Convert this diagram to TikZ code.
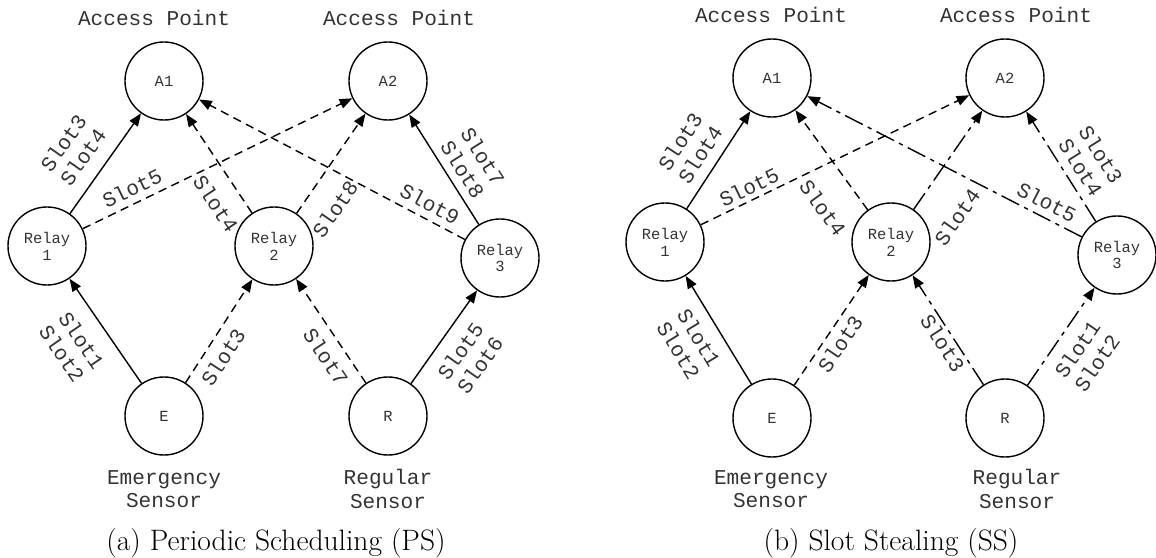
\documentclass[tikz,border=0pt]{standalone}
\usepackage{fontspec}
\setmonofont{Liberation Mono}
\usetikzlibrary{positioning, arrows.meta}

\begin{document}
\begin{tikzpicture}[
            x=0.025cm, y=-0.025cm,
            station/.style={draw, circle, line width=1pt, minimum size=1.95cm, inner sep=0pt, align=center, text=black!80, font=\ttfamily\fontsize{11}{12}\selectfont},
            tag/.style={align=center, text=black!80, font=\ttfamily\fontsize{15}{16.5}\selectfont},
            slot/.style={align=center, inner sep=0pt, text=black!80, font=\ttfamily\fontsize{15}{17}\selectfont},
            link/.style={-{Triangle[length=9pt, width=7pt]}, line width=1pt},
            dashlink/.style={link, dash pattern=on 6pt off 4pt},
            dotlink/.style={link, dash pattern=on 14pt off 4pt on 3pt off 4pt},
            caption/.style={font=\fontsize{21}{24}\selectfont}
        ]
            \useasboundingbox (0,0) rectangle (1156,558);

            % (a) periodic scheduling
            \node[station] (psA1) at (164,81) {A1};
            \node[station] (psA2) at (388,81) {A2};
            \node[station] (psR1) at (47,246) {Relay\\1};
            \node[station] (psR2) at (274,246) {Relay\\2};
            \node[station] (psR3) at (500,258) {Relay\\3};
            \node[station] (psES) at (164,416) {E};
            \node[station] (psRS) at (388,416) {R};

            \node[tag] (psAP1) at (154,18) {Access Point};
            \node[tag] (psAP2) at (399,18) {Access Point};
            \node[tag] (psESt) at (164,489) {Emergency\\Sensor};
            \node[tag] (psRSt) at (388,489) {Regular\\Sensor};

            \draw[link] (psR1) -- (psA1);
            \draw[dashlink] (psR1) -- (psA2);
            \draw[dashlink] (psR2) -- (psA1);
            \draw[dashlink] (psR2) -- (psA2);
            \draw[dashlink] (psR3) -- (psA1);
            \draw[link] (psR3) -- (psA2);
            \draw[link] (psES) -- (psR1);
            \draw[dashlink] (psES) -- (psR2);
            \draw[dashlink] (psRS) -- (psR2);
            \draw[link] (psRS) -- (psR3);

            % slot labels
            \node[slot, rotate=54.7] (psS1) at (73,150) {Slot3\\Slot4};
            \node[slot, rotate=25.8] (psS2) at (132,188) {Slot5};
            \node[slot, rotate=-56.3] (psS3) at (216,204) {Slot4};
            \node[slot, rotate=55.4] (psS4) at (335,209) {Slot8};
            \node[slot, rotate=-27.8] (psS5) at (430,204) {Slot9};
            \node[slot, rotate=-57.7] (psS6) at (473,163) {Slot7\\Slot8};
            \node[slot, rotate=-55.5] (psS7) at (72,347) {Slot1\\Slot2};
            \node[slot, rotate=57.1] (psS8) at (223,357) {Slot3};
            \node[slot, rotate=-56.2] (psS9) at (326,357) {Slot7};
            \node[slot, rotate=54.7] (psS10) at (470,358) {Slot5\\Slot6};

            \node[caption] (psCap) at (276,543) {(a) Periodic Scheduling (PS)};

            % (b) slot stealing
            \node[station] (ssA1) at (772,78) {A1};
            \node[station] (ssA2) at (1005,78) {A2};
            \node[station] (ssR1) at (665,242) {Relay\\1};
            \node[station] (ssR2) at (891,242) {Relay\\2};
            \node[station] (ssR3) at (1117,255) {Relay\\3};
            \node[station] (ssES) at (772,418) {E};
            \node[station] (ssRS) at (1005,418) {R};

            \node[tag] (ssAP1) at (771,15) {Access Point};
            \node[tag] (ssAP2) at (1016,15) {Access Point};
            \node[tag] (ssESt) at (771,489) {Emergency\\Sensor};
            \node[tag] (ssRSt) at (1017,489) {Regular\\Sensor};

            \draw[link] (ssR1) -- (ssA1);
            \draw[dashlink] (ssR1) -- (ssA2);
            \draw[dashlink] (ssR2) -- (ssA1);
            \draw[dotlink] (ssR2) -- (ssA2);
            \draw[dotlink] (ssR3) -- (ssA1);
            \draw[dotlink] (ssR3) -- (ssA2);
            \draw[link] (ssES) -- (ssR1);
            \draw[dashlink] (ssES) -- (ssR2);
            \draw[dotlink] (ssRS) -- (ssR2);
            \draw[dotlink] (ssRS) -- (ssR3);

            % slot labels
            \node[slot, rotate=56.9] (ssS1) at (690,148) {Slot3\\Slot4};
            \node[slot, rotate=25.8] (ssS2) at (749,187) {Slot5};
            \node[slot, rotate=-54.0] (ssS3) at (823,208) {Slot4};
            \node[slot, rotate=55.2] (ssS4) at (957,217) {Slot4};
            \node[slot, rotate=-27.2] (ssS5) at (1047,202) {Slot5};
            \node[slot, rotate=-57.7] (ssS6) at (1091,161) {Slot3\\Slot4};
            \node[slot, rotate=-58.7] (ssS7) at (689,344) {Slot1\\Slot2};
            \node[slot, rotate=55.9] (ssS8) at (840,344) {Slot3};
            \node[slot, rotate=-57.1] (ssS9) at (943,343) {Slot3};
            \node[slot, rotate=55.5] (ssS10) at (1087,356) {Slot1\\Slot2};

            \node[caption] (ssCap) at (891,543) {(b) Slot Stealing (SS)};

        \end{tikzpicture}
\end{document}
